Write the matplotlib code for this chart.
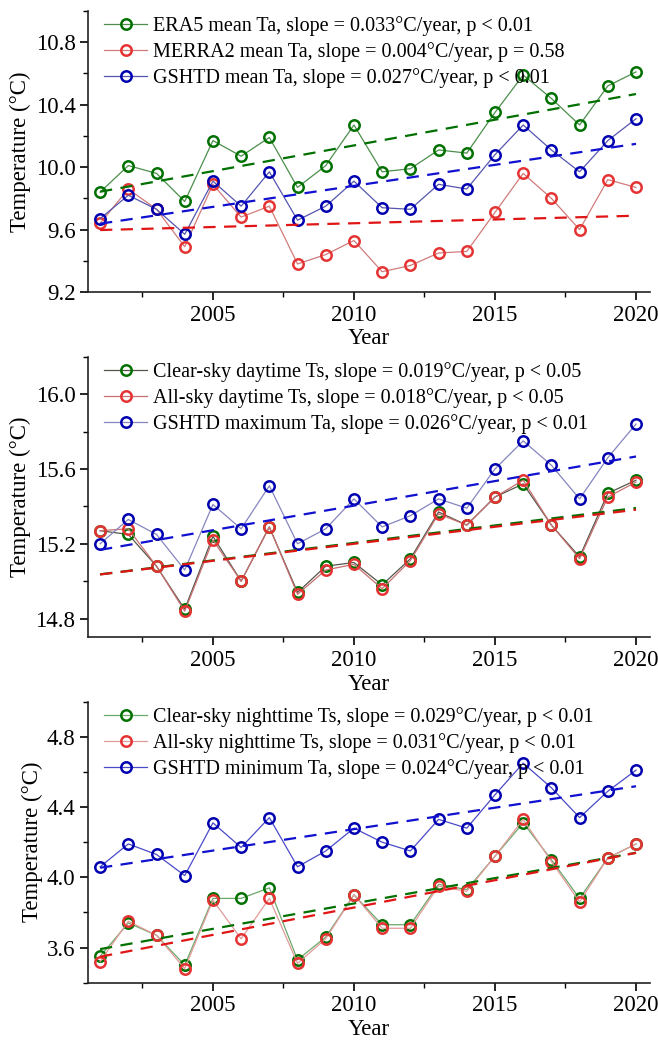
import numpy as np
import matplotlib
matplotlib.use('Agg')
import matplotlib.pyplot as plt
from matplotlib.ticker import MultipleLocator, FormatStrFormatter

plt.rcParams['font.family'] = ['Liberation Serif', 'DejaVu Serif']

years = np.arange(2001, 2021)

# panel 1: mean air temperature
era5_mean = [9.84, 10.01, 9.96, 9.78, 10.17, 10.07, 10.19, 9.87, 10.01, 10.27,
             9.97, 9.99, 10.11, 10.09, 10.35, 10.59, 10.44, 10.27, 10.52, 10.61]
merra2_mean = [9.64, 9.86, 9.73, 9.49, 9.89, 9.68, 9.75, 9.38, 9.44, 9.53,
               9.33, 9.37, 9.45, 9.46, 9.71, 9.96, 9.80, 9.60, 9.92, 9.87]
gshtd_mean = [9.67, 9.82, 9.73, 9.57, 9.91, 9.75, 9.97, 9.66, 9.75, 9.91,
              9.74, 9.73, 9.89, 9.86, 10.08, 10.27, 10.11, 9.97, 10.17, 10.31]

# panel 2: daytime Ts / maximum Ta
clear_day = [15.27, 15.25, 15.08, 14.85, 15.24, 15.00, 15.29, 14.94, 15.08, 15.10,
             14.98, 15.12, 15.37, 15.30, 15.45, 15.52, 15.30, 15.13, 15.47, 15.54]
all_day = [15.27, 15.28, 15.08, 14.84, 15.22, 15.00, 15.29, 14.93, 15.06, 15.09,
           14.96, 15.11, 15.36, 15.30, 15.45, 15.54, 15.30, 15.12, 15.45, 15.53]
gshtd_max = [15.20, 15.33, 15.25, 15.06, 15.41, 15.28, 15.51, 15.20, 15.28, 15.44,
             15.29, 15.35, 15.44, 15.39, 15.60, 15.75, 15.62, 15.44, 15.66, 15.84]

# panel 3: nighttime Ts / minimum Ta
clear_night = [3.55, 3.74, 3.67, 3.50, 3.88, 3.88, 3.94, 3.53, 3.66, 3.90,
               3.73, 3.73, 3.96, 3.93, 4.12, 4.31, 4.10, 3.88, 4.11, 4.19]
all_night = [3.52, 3.75, 3.67, 3.48, 3.87, 3.65, 3.88, 3.51, 3.65, 3.90,
             3.71, 3.71, 3.95, 3.92, 4.12, 4.33, 4.09, 3.86, 4.11, 4.19]
gshtd_min = [4.06, 4.19, 4.13, 4.01, 4.31, 4.17, 4.34, 4.06, 4.15, 4.28,
             4.20, 4.15, 4.33, 4.28, 4.47, 4.65, 4.51, 4.34, 4.49, 4.61]

panels = [
    ([era5_mean, merra2_mean, gshtd_mean],
     ['ERA5 mean Ta, slope = 0.033°C/year, p < 0.01',
      'MERRA2 mean Ta, slope = 0.004°C/year, p = 0.58',
      'GSHTD mean Ta, slope = 0.027°C/year, p < 0.01'],
     ['#4c8f4c', '#d27b7b', '#5555b0'], (9.2, 11.0), [0.7192, 0.9894]),
    ([clear_day, all_day, gshtd_max],
     ['Clear-sky daytime Ts, slope = 0.019°C/year, p < 0.05',
      'All-sky daytime Ts, slope = 0.018°C/year, p < 0.05',
      'GSHTD maximum Ta, slope = 0.026°C/year, p < 0.01'],
     ['#55554a', '#c87070', '#8585c0'], (14.7, 16.2), [0.3872, 0.657]),
    ([clear_night, all_night, gshtd_min],
     ['Clear-sky nighttime Ts, slope = 0.029°C/year, p < 0.01',
      'All-sky nighttime Ts, slope = 0.031°C/year, p < 0.01',
      'GSHTD minimum Ta, slope = 0.024°C/year, p < 0.01'],
     ['#6aa86a', '#e39a9a', '#4a4ac8'], (3.4, 5.0), [0.0551, 0.3253]),
]

marker_cols = ['#007000', '#e53333', '#0000b0']
trend_cols = ['#007000', '#e01515', '#1010d0']

fig = plt.figure(figsize=(6.58, 10.4), dpi=100)

for series, labels, line_cols, ylim, (bot, top) in panels:
    ax = fig.add_axes([0.1337, bot, 0.988 - 0.1337, top - bot])
    for s, lab, lc, mc in zip(series, labels, line_cols, marker_cols):
        ax.plot(years, s, '-', color=lc, lw=0.9, marker='o', ms=7.5,
                mfc='none', mec=mc, mew=1.8, label=lab)
    # linear trends
    for s, tc in zip(series, trend_cols):
        k, b = np.polyfit(years, s, 1)
        ax.plot(years, k * years + b, '--', color=tc, lw=1.6, dashes=(5.5, 3.8))
    ax.set_xlim(2000.57, 2020.5)
    ax.set_ylim(*ylim)
    ax.xaxis.set_major_locator(MultipleLocator(5))
    ax.xaxis.set_minor_locator(MultipleLocator(2.5))
    ax.yaxis.set_major_locator(MultipleLocator(0.4))
    ax.yaxis.set_minor_locator(MultipleLocator(0.2))
    ax.yaxis.set_major_formatter(FormatStrFormatter('%.1f'))
    for sp in ['top', 'right']:
        ax.spines[sp].set_visible(False)
    for sp in ['left', 'bottom']:
        ax.spines[sp].set_linewidth(1.2)
        ax.spines[sp].set_color('#222222')
    ax.tick_params(which='major', direction='out', length=6, width=1.2,
                   labelsize=16.5, pad=3)
    ax.tick_params(which='minor', direction='out', length=3.5, width=1.0)
    ax.set_xlabel('Year', fontsize=16.5, labelpad=2)
    ax.set_ylabel('Temperature (°C)', fontsize=16.5, labelpad=3)
    ax.legend(loc='upper left', frameon=False, fontsize=14.5, handlelength=2.1,
              labelspacing=0.3, handletextpad=0.3, borderaxespad=0.0,
              borderpad=0.2, bbox_to_anchor=(0.022, 0.995))

fig.savefig('out.png', dpi=100)
